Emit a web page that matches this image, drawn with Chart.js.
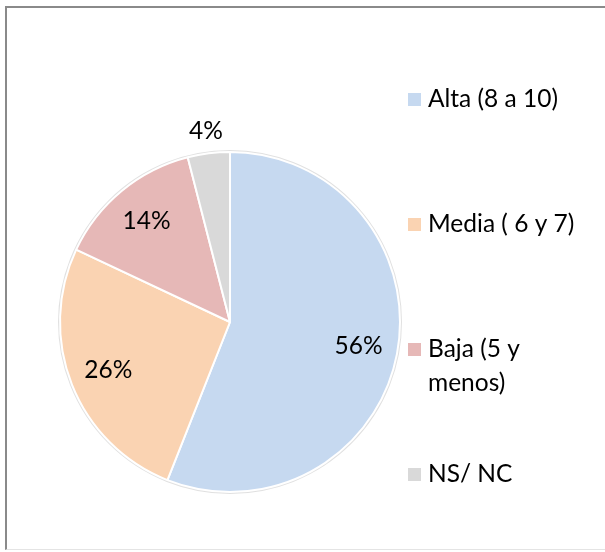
<!DOCTYPE html>
<html>
<head>
<meta charset="utf-8">
<script src="https://cdn.jsdelivr.net/npm/chart.js@4/dist/chart.umd.min.js"></script>
<style>
  html, body { margin: 0; padding: 0; background: #fff; }
  #wrap { position: relative; width: 605px; height: 552px; }
  #frame {
    position: absolute; left: 5px; top: 6px; width: 600px; height: 544px;
    border-left: 2px solid #8a8a8a; border-top: 2px solid #8a8a8a;
    border-bottom: 1px solid #e4e4e4; box-sizing: border-box;
  }
  canvas { position: absolute; left: 0; top: 0; }
</style>
</head>
<body>
<div id="wrap">
  <div id="frame"></div>
  <canvas id="pieChart" width="605" height="552"></canvas>
</div>
<script>
// chart data
var categories = ['Alta (8 a 10)', 'Media ( 6 y 7)', 'Baja (5 y\nmenos)', 'NS/ NC'];
var percentages = [56, 26, 14, 4];
var sliceColors = ['#C6D9F0', '#FAD3B2', '#E6B8B7', '#D9D9D9'];

var FONT = '24.5px Lato, "Open Sans", sans-serif';

// percent labels on the slices (last small one sits outside)
var sliceLabels = {
    id: 'sliceLabels',
    beforeDatasetsDraw: function(chart) {
        var arc = chart.getDatasetMeta(0).data[0];
        if (!arc) return;
        var ctx = chart.ctx;
        ctx.save();
        ctx.beginPath();
        ctx.arc(arc.x, arc.y, arc.outerRadius + 1, 0, Math.PI * 2);
        ctx.strokeStyle = 'rgba(0,0,0,0.12)';
        ctx.lineWidth = 2;
        ctx.stroke();
        ctx.restore();
    },
    afterDatasetsDraw: function(chart) {
        var ctx = chart.ctx;
        var arcs = chart.getDatasetMeta(0).data;
        ctx.save();
        ctx.font = FONT;
        ctx.fillStyle = '#000';
        ctx.textAlign = 'center';
        ctx.textBaseline = 'middle';
        arcs.forEach(function(a, i) {
            var mid = (a.startAngle + a.endAngle) / 2;
            var r = percentages[i] < 5 ? a.outerRadius * 1.13 : a.outerRadius * 0.77;
            ctx.fillText(percentages[i] + '%', a.x + Math.cos(mid) * r, a.y + Math.sin(mid) * r);
        });
        ctx.restore();
    }
};

// legend on the right, evenly spaced like the original
var sideLegend = {
    id: 'sideLegend',
    afterDraw: function(chart) {
        var ctx = chart.ctx;
        ctx.save();
        ctx.font = FONT;
        ctx.textBaseline = 'middle';
        ctx.textAlign = 'left';
        categories.forEach(function(name, i) {
            var y = 99.5 + i * 125;
            ctx.fillStyle = sliceColors[i];
            ctx.fillRect(408, y - 6.5, 13, 13);
            ctx.fillStyle = '#000';
            name.split('\n').forEach(function(line, j) {
                ctx.fillText(line, 428, y + j * 34);
            });
        });
        ctx.restore();
    }
};

var pieChart = new Chart(document.getElementById('pieChart'), {
    type: 'pie',
    data: {
        labels: categories,
        datasets: [{
            data: percentages,
            backgroundColor: sliceColors,
            borderColor: '#ffffff',
            borderWidth: 2
        }]
    },
    options: {
        responsive: false,
        animation: false,
        layout: { padding: { left: 59, right: 204, top: 151, bottom: 59 } },
        plugins: {
            legend: { display: false },
            tooltip: { enabled: false }
        }
    },
    plugins: [sliceLabels, sideLegend]
});
</script>
</body>
</html>
